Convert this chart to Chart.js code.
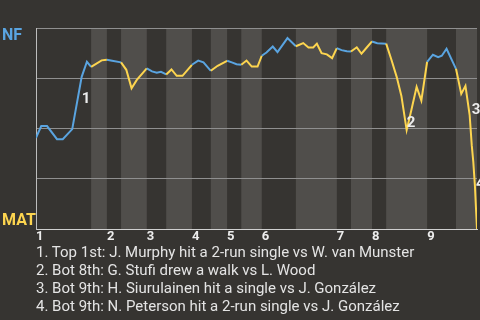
<!DOCTYPE html>
<html lang="en">
  <head>
    <meta charset="UTF-8" />
    <title>Win Probability</title>
    <script src="https://cdn.jsdelivr.net/npm/chart.js@4.4.0/dist/chart.umd.min.js"></script>
    <style>
      body { margin: 0; background: #363431; }
      #wrap { position: relative; width: 480px; height: 320px; }
      #plays {
        position: absolute; left: 36px; top: 244.3px; margin: 0; padding: 0;
        list-style: none; white-space: nowrap;
        font: 15px Roboto, sans-serif; line-height: 17.8px; color: #e4e4e4;
      }
    </style>
  </head>
  <body>
    <div id="wrap">
      <canvas id="chart" width="480" height="320"></canvas>
      <ul id="plays"></ul>
    </div>
    <script>
      const teams = ['NF', 'MAT'] // away (top), home (bottom)
      const innings = ['1', '2', '3', '4', '5', '6', '7', '8', '9']
      // start of every half inning, in game progress units (top 1st, bot 1st, top 2nd ...)
      const halfStarts = [0, 10.5, 13.5, 16.2, 21.1, 24.8, 29.7, 33.3, 36.4, 39.1, 43.0, 49.5, 57.3, 60.0, 64.0, 66.7, 74.5, 80.0]
      const gameEnd = 84

      const progress = [
        0, 1.0, 2.1, 4.0, 5.1, 6.9, 8.7, 9.7, 10.5,
        12.5, 13.5,
        14.5, 16.2,
        17.2, 18.2, 19.2, 21.1,
        22.1, 23.0, 23.8, 24.8,
        25.8, 26.8, 27.9, 29.7,
        30.9, 31.9, 33.3,
        34.6, 36.4,
        37.3, 38.2, 39.1,
        40.1, 41.1, 42.2, 43.0,
        43.9, 45.1, 46.0, 47.9, 49.5,
        50.9, 51.9, 52.8, 53.5, 54.4, 55.4, 56.4, 57.3,
        58.2, 59.2, 60.0,
        61.1, 62.0, 63.0, 64.0,
        65.0, 66.7,
        67.7, 68.7, 69.6, 70.6, 71.5, 72.5, 73.4, 74.5,
        75.6, 76.6, 77.3, 78.2, 80.0,
        81.0, 81.8, 82.6, 83.0, 83.3, 83.6, 83.8, 84.0,
      ]
      // NF win probability (%)
      const nfWinPct = [
        45.4, 51.2, 51.2, 44.7, 44.7, 49.7, 75.7, 83.2, 80.7,
        83.9, 84.2,
        83.7, 82.9,
        79.2, 70.0, 74.2, 79.9,
        78.4, 77.7, 78.2, 76.9,
        79.4, 76.2, 76.2, 81.7,
        83.8, 82.9, 78.7,
        81.2, 83.7,
        82.9, 82.0, 81.7,
        83.8, 80.8, 80.8, 86.2,
        87.8, 90.8, 88.0, 95.0, 90.9,
        92.5, 90.3, 90.3, 92.2, 87.5, 86.9, 85.0, 90.0,
        89.0, 88.4, 88.3,
        90.4, 87.2, 90.3, 93.3,
        92.4, 92.2,
        84.2, 75.7, 66.2, 49.2, 59.2, 70.7, 63.9, 83.2,
        86.7, 85.5, 86.2, 89.7, 79.7,
        67.2, 71.2, 56.7, 41.7, 33.2, 21.7, 10.7, 0,
      ]

      // key plays: where the marker number sits, and the description
      const eventX = [8.7, 70.6, 83.0, 83.8]
      const eventY = [65.2, 53.4, 59.9, 23.2]
      const eventText = [
        'Top 1st: J. Murphy hit a 2-run single vs W. van Munster',
        'Bot 8th: G. Stufi drew a walk vs L. Wood',
        'Bot 9th: H. Siurulainen hit a single vs J. González',
        'Bot 9th: N. Peterson hit a 2-run single vs J. González',
      ]

      const BLUE = '#5aa4e0'
      const YELLOW = '#fdd54f'
      const BG = '#363431'
      const STRIPE = '#504e4b'
      const FONT = 'Roboto, sans-serif'

      const list = document.getElementById('plays')
      eventText.forEach((t, i) => {
        const li = document.createElement('li')
        li.textContent = (i + 1) + '. ' + t
        list.appendChild(li)
      })

      function battingSide(x) {
        let half = 0
        for (let i = 0; i < halfStarts.length; i++) if (x >= halfStarts[i]) half = i
        return half % 2 // 0 = top (NF bats), 1 = bottom (MAT bats)
      }

      const stripes = {
        id: 'stripes',
        beforeDraw(chart) {
          const { ctx, chartArea: a } = chart
          const x = chart.scales.x
          ctx.save()
          ctx.fillStyle = BG
          ctx.fillRect(0, 0, chart.width, chart.height)
          ctx.fillStyle = STRIPE
          for (let i = 1; i < halfStarts.length; i += 2) {
            const x0 = x.getPixelForValue(halfStarts[i])
            const x1 = x.getPixelForValue(i + 1 < halfStarts.length ? halfStarts[i + 1] : gameEnd)
            ctx.fillRect(x0, a.top, x1 - x0, a.bottom - a.top)
          }
          ctx.restore()
        },
      }

      const labels = {
        id: 'labels',
        afterDatasetsDraw(chart) {
          const { ctx, chartArea: a } = chart
          const { x, y } = chart.scales
          ctx.save()
          ctx.textAlign = 'left'
          ctx.textBaseline = 'alphabetic'
          ctx.font = 'bold 16px ' + FONT
          ctx.fillStyle = BLUE
          ctx.fillText(teams[0], 2, a.top + 11.8)
          ctx.fillStyle = YELLOW
          ctx.fillText(teams[1], 2, a.bottom - 4)
          ctx.font = 'bold 15px ' + FONT
          ctx.fillStyle = '#ececec'
          eventX.forEach((v, i) => {
            ctx.fillText(String(i + 1), x.getPixelForValue(v), y.getPixelForValue(eventY[i]) + 5.3)
          })
          ctx.restore()
        },
      }

      const ctx = document.getElementById('chart')
      const myChart = new Chart(ctx, {
        type: 'line',
        data: {
          datasets: [
            {
              data: progress.map((p, i) => ({ x: p, y: nfWinPct[i] })),
              borderColor: BLUE,
              borderWidth: 2,
              pointRadius: 0,
              tension: 0,
              segment: {
                borderColor: (c) => (battingSide((c.p0.parsed.x + c.p1.parsed.x) / 2) ? YELLOW : BLUE),
              },
            },
          ],
        },
        options: {
          responsive: false,
          animation: false,
          devicePixelRatio: 1,
          layout: { padding: { left: 36, right: 3, top: 28, bottom: 75.4 } },
          plugins: { legend: { display: false }, tooltip: { enabled: false } },
          scales: {
            x: {
              type: 'linear',
              min: 0,
              max: gameEnd,
              afterBuildTicks: (s) => {
                s.ticks = halfStarts.filter((v, i) => i % 2 === 0).map((v) => ({ value: v }))
              },
              grid: { display: false, drawTicks: false },
              border: { color: '#cfcfcf', width: 1 },
              ticks: {
                autoSkip: false,
                maxRotation: 0,
                align: 'start',
                padding: 0,
                color: '#ededed',
                font: { family: FONT, size: 13, weight: 'bold' },
                callback: (v, i) => innings[i],
              },
            },
            y: {
              min: 0,
              max: 100,
              ticks: { display: false, stepSize: 25 },
              grid: { color: '#8f8f8f', drawTicks: false },
              border: { color: '#bdbdbd', width: 1 },
            },
          },
        },
        plugins: [stripes, labels],
      })
    </script>
  </body>
</html>
